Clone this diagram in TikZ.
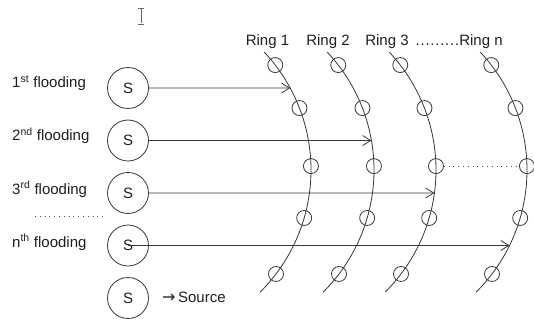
\documentclass[tikz,border=0pt]{standalone}
\usepackage{fontspec}
\setmainfont{Liberation Sans}
\newfontfamily\arrowfont{DejaVu Sans}
\usetikzlibrary{arrows.meta,calc}
\begin{document}
\begin{tikzpicture}[x=1pt,y=-1pt,
  every node/.style={font=\fontsize{15pt}{18pt}\selectfont, text=black!88},
  src/.style={circle, draw=black!78, line width=0.8pt, minimum size=41pt, inner sep=0pt},
  relay/.style={circle, draw=black!78, line width=0.8pt, minimum size=15pt, inner sep=0pt},
  ring/.style={draw=black!78, line width=0.8pt},
  flood/.style={draw=black!78, line width=0.8pt, -{Straight Barb[length=8pt,width=10pt]}},
  lbl/.style={anchor=base west, inner sep=0pt},
  gap/.style={draw=black!70, line width=0.8pt, dash pattern=on 0.8pt off 4pt}]

\fill[white] (0,0) rectangle (534,320);
\useasboundingbox (0,0) rectangle (534,320);

% text cursor mark
\draw[black!60, line width=0.8pt] (141,8.5) -- (141,23.5)
  (138,8) -- (144,8) (138,24) -- (144,24);

% rings: arcs of radius 172 with five relay nodes each
\foreach \cx/\n in {139/1,202/2,264/3,355/n}{
  \coordinate (c\n) at (\cx,170);
  \draw[ring] plot[domain=-43.3:45.2, samples=60, smooth]
    ({\cx+172*cos(\x)},{170+172*sin(\x)});
  \foreach \a/\k in {-37.6/a,-21.1/b,-1.3/c,16.2/d,37.2/e}
    \node[relay] (r\n\k) at ($(c\n)+(\a:172)$) {};
}

% ring labels
\node[anchor=base] (l1) at (267.5,46) {Ring 1};
\node[anchor=base] (l2) at (328,46) {Ring 2};
\node[anchor=base] (l3) at (387,46) {Ring 3};
\node[lbl] (ldots) at (415.5,46) {.\kern0.75pt.\kern0.75pt.\kern0.75pt.\kern0.75pt.\kern0.75pt.\kern0.75pt.\kern0.75pt.\kern0.75pt.};
\node[anchor=base] (ln) at (481,46) {Ring n};

% sources
\node[src] (s1) at (128,88) {S};
\node[src] (s2) at (128,140.5) {S};
\node[src] (s3) at (128,193) {S};
\node[src] (sn) at (128,245.5) {S};
\node[src] (s0) at (128,298) {S};

% flooding labels
\node[lbl] (f1) at (12,88) {1\textsuperscript{st} flooding};
\node[lbl] (f2) at (12,141) {2\textsuperscript{nd} flooding};
\node[lbl] (f3) at (12,194) {3\textsuperscript{rd} flooding};
\node[lbl] (fn) at (12,247) {n\textsuperscript{th} flooding};
\node[lbl] (srclbl) at (162,302) {{\arrowfont\fontsize{16pt}{16pt}\selectfont →}\kern2.5pt Source};

% reach of each flooding
\coordinate (h1) at ($(c1)+(-28.47:172)$);
\coordinate (h2) at ($(c2)+(-9.87:172)$);
\coordinate (h3) at ($(c3)+(7.68:172)$);
\coordinate (hn) at ($(cn)+(26.04:172)$);
\draw[flood] (s1.east) -- (h1);
\draw[flood] (s2.east) -- (h2);
\draw[flood] (s3.east) -- (h3);
\draw[flood] (sn.center) -- (hn);

% elided rings and floodings
\draw[gap] (r3c.east) -- (rnc.west);
\coordinate (d1) at (35,216);
\coordinate (d2) at (106,216);
\draw[gap] (d1) -- (d2);
\end{tikzpicture}
\end{document}
